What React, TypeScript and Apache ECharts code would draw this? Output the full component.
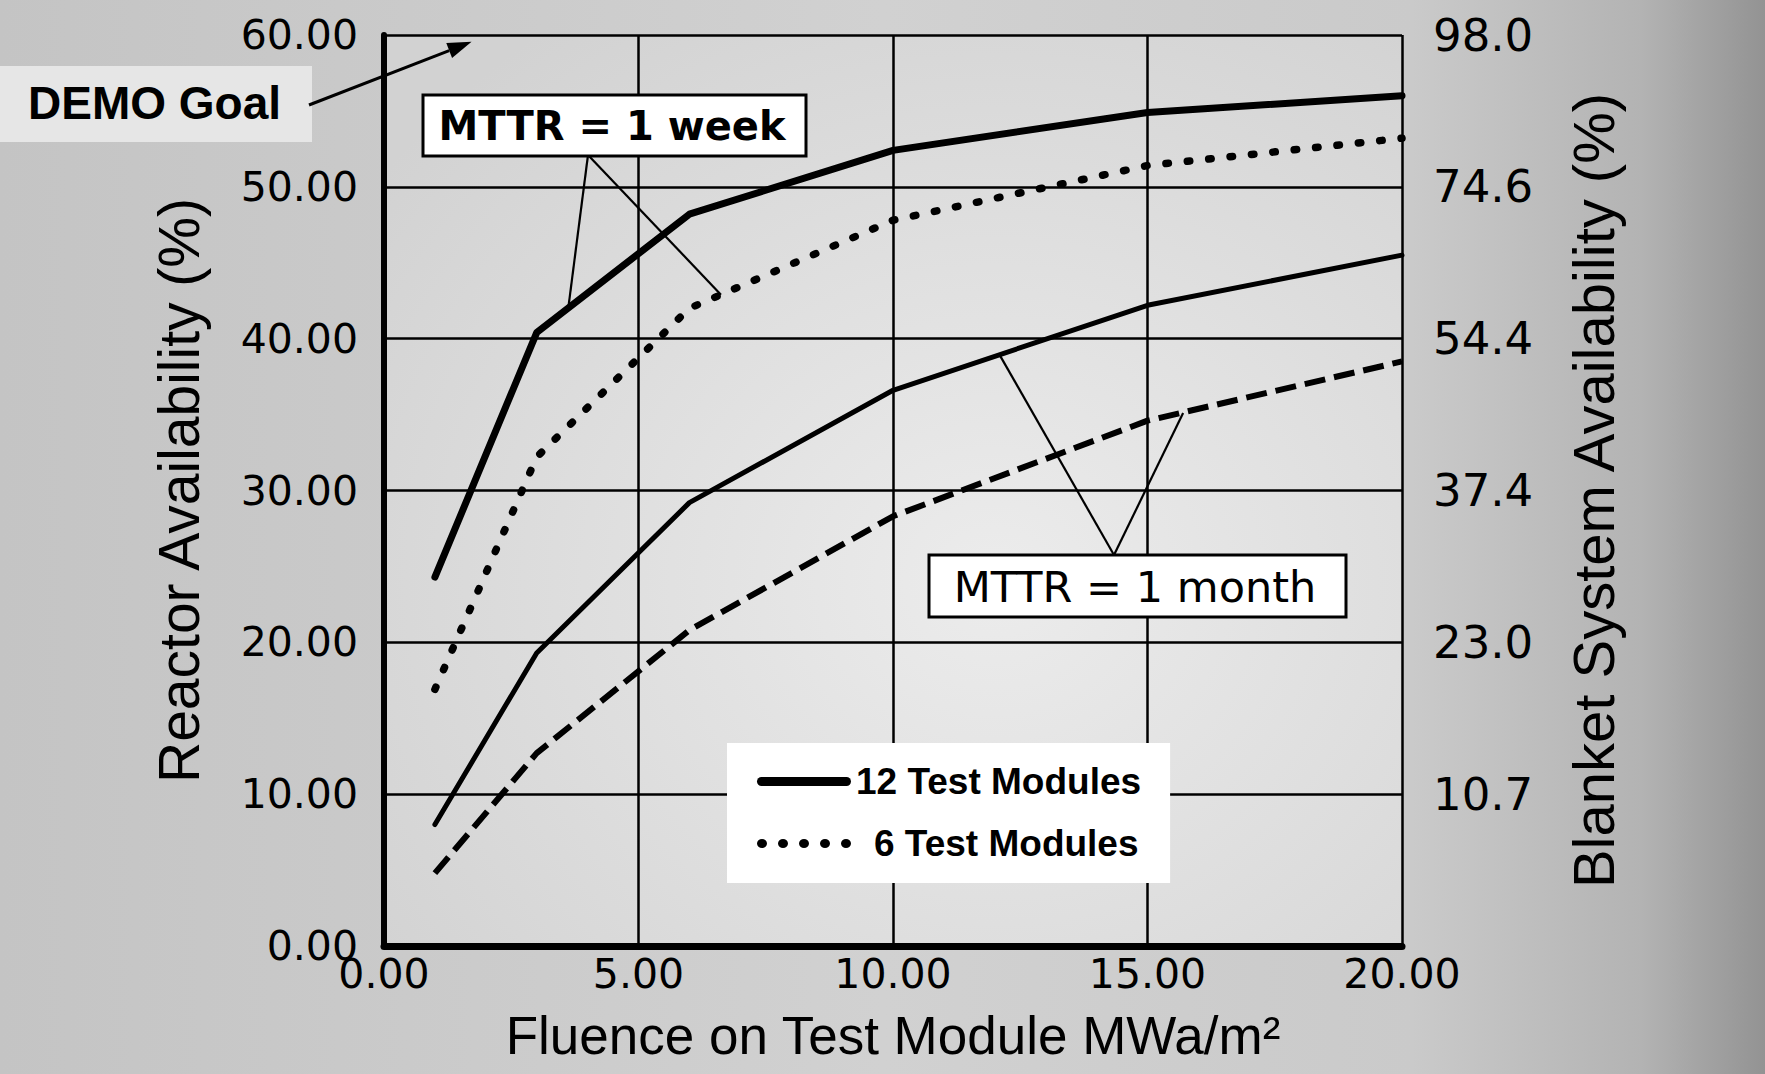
import React, { useEffect, useRef } from "react";
import * as echarts from "echarts";

// ---- data ----
const fluence = [1, 3, 6, 10, 15, 20];
const week12 = [24.3, 40.4, 48.2, 52.4, 54.9, 56.0];
const week6 = [16.9, 32.2, 42.0, 47.8, 51.4, 53.2];
const month12 = [8.0, 19.3, 29.2, 36.6, 42.2, 45.5];
const month6 = [4.8, 12.7, 20.8, 28.3, 34.6, 38.5];
const blanketTickLabels = ["", "10.7", "23.0", "37.4", "54.4", "74.6", "98.0"];
const legendNames = ["12 Test Modules", "6 Test Modules"];

// annotation anchors (data units) on the curves
const demoTip = [1.72, 59.55];
const weekTargets = [
  [3.62, 42.0],
  [6.62, 42.9],
];
const monthTargets = [
  [12.1, 38.9],
  [15.7, 35.1],
];

const pairs = (ys: number[]) => fluence.map((x, i) => [x, ys[i]]);

const NUM_FONT = "DejaVu Sans";
const NAME_FONT = "Liberation Sans";

// legend icons (94 x 9 boxes)
const solidIcon = "path://M4.5,0L89.5,0A4.5,4.5,0,0,1,89.5,9L4.5,9A4.5,4.5,0,0,1,4.5,0Z";
const dotIcon =
  "path://" +
  [0, 21, 42, 63, 84]
    .map((x) => `M${x},4.5A5,4.5,0,1,1,${x + 10},4.5A5,4.5,0,1,1,${x},4.5Z`)
    .join("");

const legendText = {
  fontFamily: NAME_FONT,
  fontWeight: "bold",
  fontSize: 37,
  lineHeight: 37,
  color: "#000",
};

function buildOption(): any {
  return {
    animation: false,
    backgroundColor: new echarts.graphic.LinearGradient(0, 0, 1, 0, [
      { offset: 0, color: "#c4c4c4" },
      { offset: 0.5, color: "#d1d1d1" },
      { offset: 0.8, color: "#cacaca" },
      { offset: 0.93, color: "#b3b3b3" },
      { offset: 1, color: "#939393" },
    ]),
    grid: {
      left: 384,
      top: 35,
      width: 1018,
      height: 911,
      show: true,
      borderWidth: 0,
      backgroundColor: new echarts.graphic.RadialGradient(0.6, 0.6, 0.75, [
        { offset: 0, color: "#ececec" },
        { offset: 1, color: "#d2d2d2" },
      ]),
    },
    legend: {
      data: [
        { name: legendNames[0], icon: solidIcon },
        { name: legendNames[1], icon: dotIcon },
      ],
      formatter: (name: string) => (name === legendNames[1] ? `{p|${name}}` : name),
      orient: "vertical",
      left: 727,
      top: 743,
      backgroundColor: "#ffffff",
      padding: [20, 29, 21, 30],
      itemWidth: 94,
      itemHeight: 9,
      itemGap: 25,
      selectedMode: false,
      textStyle: {
        ...legendText,
        rich: { p: { ...legendText, padding: [0, 0, 0, 18] } },
      },
    },
    xAxis: [
      {
        type: "value",
        min: 0,
        max: 20,
        interval: 5,
        position: "bottom",
        axisLine: { show: true, lineStyle: { color: "#000", width: 4 } },
        axisTick: { show: false },
        axisLabel: {
          formatter: (v: number) => v.toFixed(2),
          fontFamily: NUM_FONT,
          fontSize: 41,
          color: "#000",
          margin: 7,
        },
        splitLine: { show: true, lineStyle: { color: "#000", width: 2.5 } },
        name: "Fluence on Test Module MWa/m²",
        nameLocation: "middle",
        nameGap: 63,
        nameTextStyle: { fontFamily: NAME_FONT, fontSize: 53, color: "#000" },
      },
      {
        type: "value",
        min: 0,
        max: 20,
        interval: 5,
        position: "top",
        axisLine: { show: true, lineStyle: { color: "#000", width: 7 } },
        axisTick: { show: false },
        axisLabel: { show: false },
        splitLine: { show: false },
      },
    ],
    yAxis: [
      {
        type: "value",
        min: 0,
        max: 60,
        interval: 10,
        position: "left",
        axisLine: { show: true, lineStyle: { color: "#000", width: 4 } },
        axisTick: { show: false },
        axisLabel: {
          formatter: (v: number) => v.toFixed(2),
          fontFamily: NUM_FONT,
          fontSize: 41,
          color: "#000",
          margin: 26,
        },
        splitLine: { show: true, lineStyle: { color: "#000", width: 2.5 } },
        name: "Reactor Availability (%)",
        nameLocation: "middle",
        nameRotate: 90,
        nameGap: 177,
        nameTextStyle: { fontFamily: NAME_FONT, fontSize: 57, color: "#000" },
      },
      {
        type: "value",
        min: 0,
        max: 60,
        interval: 10,
        position: "right",
        axisLine: { show: true, lineStyle: { color: "#000", width: 6 } },
        axisTick: { show: false },
        axisLabel: {
          formatter: (v: number) => blanketTickLabels[Math.round(v / 10)] ?? "",
          fontFamily: NUM_FONT,
          fontSize: 45,
          color: "#000",
          margin: 31,
        },
        splitLine: { show: false },
        name: "Blanket System Availability (%)",
        nameLocation: "middle",
        nameRotate: 90,
        nameGap: 162,
        nameTextStyle: { fontFamily: NAME_FONT, fontSize: 58, color: "#000" },
      },
    ],
    series: [
      {
        name: legendNames[0],
        type: "line",
        data: pairs(week12),
        symbol: "none",
        lineStyle: { color: "#000", width: 7, cap: "round", join: "round" },
        itemStyle: { color: "#000" },
        z: 5,
      },
      {
        name: legendNames[1],
        type: "line",
        data: pairs(week6),
        symbol: "none",
        lineStyle: { color: "#000", width: 7.5, type: [2.5, 19], cap: "round" },
        itemStyle: { color: "#000" },
        z: 5,
      },
      {
        name: "12 Test Modules (MTTR = 1 month)",
        type: "line",
        data: pairs(month12),
        symbol: "none",
        lineStyle: { color: "#000", width: 5, cap: "round", join: "round" },
        itemStyle: { color: "#000" },
        z: 5,
      },
      {
        name: "6 Test Modules (MTTR = 1 month)",
        type: "line",
        data: pairs(month6),
        symbol: "none",
        lineStyle: { color: "#000", width: 6, type: [21, 9] },
        itemStyle: { color: "#000" },
        z: 5,
      },
    ],
  };
}

export default function App() {
  const ref = useRef<HTMLDivElement>(null);
  useEffect(() => {
    const el = ref.current;
    if (!el) return;
    const chart = echarts.init(el, null, { renderer: "svg" });
    chart.setOption(buildOption());

    const px = (pt: number[]) =>
      chart.convertToPixel({ xAxisIndex: 0, yAxisIndex: 0 }, pt) as number[];

    const tip = px(demoTip);
    const start = [309, 105];
    const dx = tip[0] - start[0];
    const dy = tip[1] - start[1];
    const len = Math.sqrt(dx * dx + dy * dy);
    const ux = dx / len;
    const uy = dy / len;
    const headLen = 24;
    const headHalf = 8;
    const bx = tip[0] - ux * headLen;
    const by = tip[1] - uy * headLen;

    const weekApex = [588, 155];
    const monthApex = [1114, 555];
    const leader = (a: number[], b: number[]) => ({
      type: "line",
      z: 20,
      shape: { x1: a[0], y1: a[1], x2: b[0], y2: b[1] },
      style: { stroke: "#000", lineWidth: 2.2 },
    });

    chart.setOption({
      graphic: [
        {
          type: "rect",
          z: 1,
          shape: { x: 0, y: 66, width: 312, height: 76 },
          style: { fill: "#e6e6e6" },
        },
        {
          type: "text",
          z: 20,
          x: 28,
          y: 103,
          style: {
            text: "DEMO Goal",
            fontFamily: NAME_FONT,
            fontWeight: "bold",
            fontSize: 46,
            fill: "#000",
            align: "left",
            verticalAlign: "middle",
          },
        },
        {
          type: "line",
          z: 20,
          shape: { x1: start[0], y1: start[1], x2: bx, y2: by },
          style: { stroke: "#000", lineWidth: 3 },
        },
        {
          type: "polygon",
          z: 20,
          shape: {
            points: [
              [tip[0], tip[1]],
              [bx - uy * headHalf, by + ux * headHalf],
              [bx + uy * headHalf, by - ux * headHalf],
            ],
          },
          style: { fill: "#000" },
        },
        leader(weekApex, px(weekTargets[0])),
        leader(weekApex, px(weekTargets[1])),
        leader(monthApex, px(monthTargets[0])),
        leader(monthApex, px(monthTargets[1])),
        {
          type: "rect",
          z: 30,
          shape: { x: 423, y: 95, width: 383, height: 61 },
          style: { fill: "#ffffff", stroke: "#000", lineWidth: 3 },
        },
        {
          type: "text",
          z: 31,
          x: 612,
          y: 126,
          style: {
            text: "MTTR = 1 week",
            fontFamily: NUM_FONT,
            fontWeight: "bold",
            fontSize: 40,
            fill: "#000",
            align: "center",
            verticalAlign: "middle",
          },
        },
        {
          type: "rect",
          z: 30,
          shape: { x: 929, y: 555, width: 417, height: 62 },
          style: { fill: "#ffffff", stroke: "#000", lineWidth: 3 },
        },
        {
          type: "text",
          z: 31,
          x: 1135,
          y: 587,
          style: {
            text: "MTTR = 1 month",
            fontFamily: NUM_FONT,
            fontSize: 43,
            fill: "#000",
            align: "center",
            verticalAlign: "middle",
          },
        },
      ],
    });

    return () => chart.dispose();
  }, []);

  return (
    <div
      ref={ref}
      style={{ position: "absolute", left: 0, top: 0, width: 1765, height: 1074 }}
    />
  );
}
